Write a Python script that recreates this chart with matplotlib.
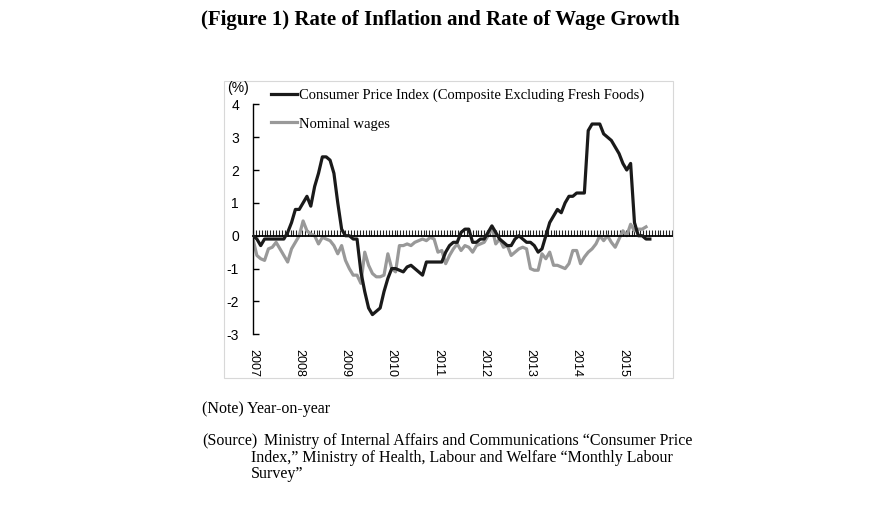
import numpy as np
import matplotlib
matplotlib.use("Agg")
import matplotlib.pyplot as plt
from matplotlib.patches import Rectangle

# ---- data (year-on-year %, monthly from Jan 2007) ----
years = [2007, 2008, 2009, 2010, 2011, 2012, 2013, 2014, 2015]
cpi = [
    0.0, -0.1, -0.3, -0.1, -0.1, -0.1, -0.1, -0.1, -0.1, 0.1, 0.4, 0.8,   # 2007
    0.8, 1.0, 1.2, 0.9, 1.5, 1.9, 2.4, 2.4, 2.3, 1.9, 1.0, 0.2,            # 2008
    0.0, 0.0, -0.1, -0.1, -1.1, -1.7, -2.2, -2.4, -2.3, -2.2, -1.7, -1.3,  # 2009
    -1.0, -1.0, -1.05, -1.1, -0.95, -0.9, -1.0, -1.1, -1.2, -0.8, -0.8, -0.8,  # 2010
    -0.8, -0.8, -0.5, -0.3, -0.2, -0.2, 0.1, 0.2, 0.2, -0.2, -0.2, -0.1,   # 2011
    -0.1, 0.1, 0.3, 0.1, -0.1, -0.2, -0.3, -0.3, -0.1, 0.0, -0.1, -0.2,    # 2012
    -0.2, -0.3, -0.5, -0.4, 0.0, 0.4, 0.6, 0.8, 0.7, 1.0, 1.2, 1.2,        # 2013
    1.3, 1.3, 1.3, 3.2, 3.4, 3.4, 3.4, 3.1, 3.0, 2.9, 2.7, 2.5,            # 2014
    2.2, 2.0, 2.2, 0.4, 0.0, 0.0, -0.1, -0.1,                              # 2015
]
wages = [
    -0.1, -0.6, -0.7, -0.75, -0.4, -0.35, -0.2, -0.4, -0.6, -0.8, -0.4, -0.2,     # 2007
    0.0, 0.45, 0.15, 0.05, 0.0, -0.25, -0.05, -0.1, -0.15, -0.3, -0.55, -0.3,     # 2008
    -0.75, -1.0, -1.2, -1.2, -1.45, -0.5, -0.9, -1.15, -1.25, -1.25, -1.2, -0.55, # 2009
    -1.0, -1.1, -0.3, -0.3, -0.25, -0.3, -0.2, -0.15, -0.1, -0.15, -0.05, -0.1,   # 2010
    -0.5, -0.45, -0.85, -0.6, -0.4, -0.25, -0.45, -0.3, -0.35, -0.5, -0.3, -0.25, # 2011
    -0.2, 0.0, 0.25, -0.25, -0.1, -0.35, -0.3, -0.6, -0.5, -0.4, -0.35, -0.4,     # 2012
    -1.0, -1.05, -1.05, -0.55, -0.7, -0.5, -0.9, -0.9, -0.95, -1.0, -0.85, -0.45, # 2013
    -0.45, -0.85, -0.65, -0.5, -0.4, -0.25, 0.0, -0.15, 0.0, -0.2, -0.35, -0.1,   # 2014
    0.15, 0.0, 0.35, 0.15, 0.2, 0.2, 0.27,                                        # 2015
]
yticks = [4, 3, 2, 1, 0, -1, -2, -3]
label_cpi = "Consumer Price Index (Composite Excluding Fresh Foods)"
label_wage = "Nominal wages"

SERIF = ["Liberation Serif", "DejaVu Serif"]
SANS = ["Liberation Sans", "DejaVu Sans"]

W, H = 884, 527
fig = plt.figure(figsize=(W / 100, H / 100), dpi=100)
fig.patch.set_facecolor("white")

def fx(px):
    return px / W

def fy(py):
    return 1 - py / H

# light grey frame around chart
fig.patches.append(Rectangle((fx(224), fy(378)), fx(673) - fx(224), fy(81) - fy(378),
                             transform=fig.transFigure, fill=False,
                             edgecolor="#d8d8d8", linewidth=0.8))

ax = fig.add_axes([fx(253), fy(334.3), fx(673) - fx(253), fy(104.3) - fy(334.3)])
ax.set_facecolor("none")

m_cpi = np.arange(len(cpi))
m_wage = np.arange(len(wages))
ax.plot(m_cpi, cpi, color="#1a1a1a", lw=2.3, label=label_cpi, zorder=3,
        solid_joinstyle="round")
ax.plot(m_wage, wages, color="#999999", lw=2.3, label=label_wage, zorder=2,
        solid_joinstyle="round")

ax.set_xlim(0, 109)
ax.set_ylim(-3, 4)

for s in ["top", "right"]:
    ax.spines[s].set_visible(False)
ax.spines["left"].set_linewidth(1.0)
ax.spines["bottom"].set_position(("data", 0))
ax.spines["bottom"].set_linewidth(1.3)
ax.set_xticks(np.arange(0, 109, 0.75))
ax.set_xticklabels([])
ax.tick_params(axis="x", direction="in", length=4, width=0.8, color="#222222")

ax.set_yticks(yticks)
ax.set_yticklabels([str(v) for v in yticks], fontfamily=SANS, fontsize=10)
ax.tick_params(axis="y", direction="in", length=4, width=1.0, pad=10)

for i, yr in enumerate(years):
    ax.text(i * 12, -3.44, str(yr), rotation=-90, ha="center", va="top",
            fontsize=9, family=SANS, clip_on=False)

fig.text(fx(238.5), fy(88), "(%)", ha="center", va="center", fontsize=10, family=SANS)

leg = ax.legend(loc="upper left", bbox_to_anchor=(fx(271), fy(88.5)),
                bbox_transform=fig.transFigure, frameon=False,
                prop={"family": SERIF, "size": 10.5}, handlelength=1.75,
                handletextpad=0.2, labelspacing=1.05, borderpad=0, borderaxespad=0)

fig.text(fx(440), fy(20), "(Figure 1) Rate of Inflation and Rate of Wage Growth",
         ha="center", va="center", fontsize=15, fontweight="bold", family=SERIF)

note_kw = dict(fontsize=11.5, family=SERIF, va="center", ha="left")
fig.text(fx(202), fy(409), "(Note) Year-on-year", **note_kw)
fig.text(fx(202), fy(441), "(Source)", **note_kw)
fig.text(fx(264), fy(441),
         "Ministry of Internal Affairs and Communications \u201cConsumer Price", **note_kw)
fig.text(fx(251), fy(458),
         "Index,\u201d Ministry of Health, Labour and Welfare \u201cMonthly Labour", **note_kw)
fig.text(fx(251), fy(474), "Survey\u201d", **note_kw)

fig.savefig("out.png", dpi=100, facecolor="white")
